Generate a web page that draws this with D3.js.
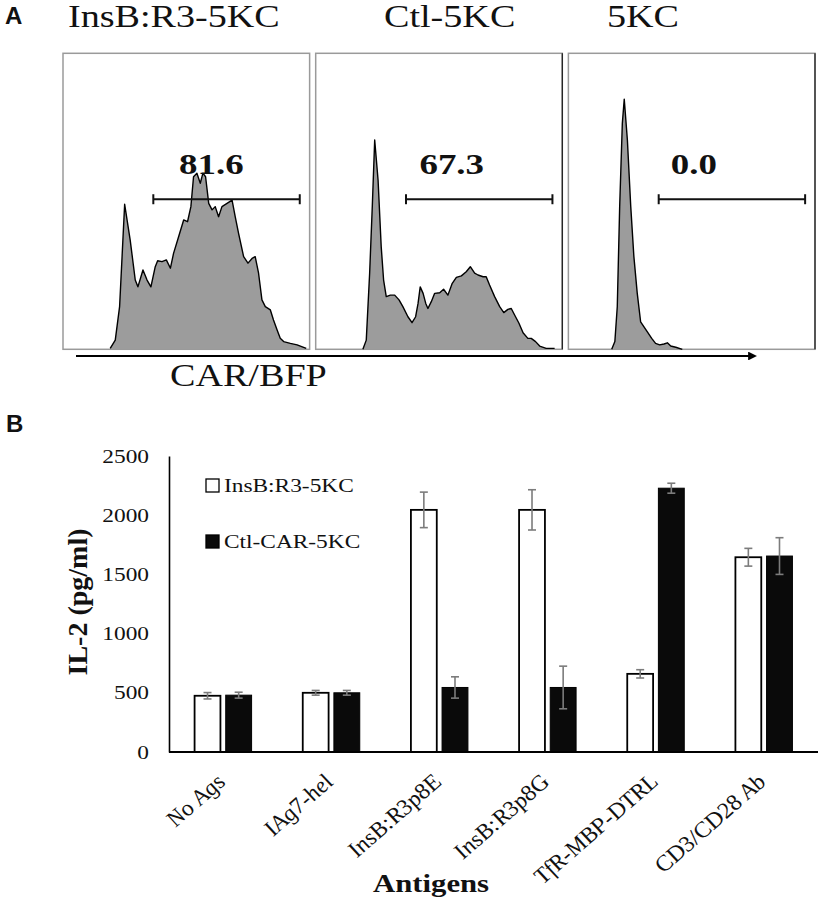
<!DOCTYPE html>
<html>
<head>
<meta charset="utf-8">
<script src="https://cdn.jsdelivr.net/npm/d3@7"></script>
<style>
  body { margin: 0; background: #fff; }
  svg { display: block; }
  text { font-family: "Liberation Serif", "Times New Roman", serif; fill: #111; }
  .panelLetter { font-family: "Liberation Sans", Arial, sans-serif; font-weight: bold; font-size: 24px; }
</style>
</head>
<body>
<div id="graphic"></div>
<script>
// ---- panel A : flow histograms (channel 0-1024, count as % of box height)
var flowSamples = ["InsB:R3-5KC", "Ctl-5KC", "5KC"];
var gatePercent = ["81.6", "67.3", "0.0"];
var gateRange = [375, 983];
var gateLevel = 50.7;

var histInsB = [[196,0.3],[217,3.1],[235,14.4],[256,49.0],[279,36.9],[300,23.4],[311,21.1],[332,26.8],[349,23.4],[365,21.1],[383,27.9],[393,29.9],[411,29.6],[429,30.2],[446,27.4],[459,32.4],[480,38.0],[501,43.7],[517,43.1],[531,48.2],[542,58.3],[556,59.5],[570,56.1],[581,59.5],[592,58.3],[605,49.3],[619,47.1],[632,48.2],[646,44.8],[660,48.2],[681,49.3],[702,50.4],[715,44.8],[729,39.2],[750,31.3],[768,29.1],[785,30.7],[798,31.3],[812,25.7],[826,16.7],[840,14.4],[861,13.3],[874,9.9],[889,6.5],[902,3.7],[916,2.6],[944,2.0],[972,1.5],[1010,0.3]];
var histCtl = [[196,0],[210,3.1],[224,25.7],[235,48.2],[245,70.7],[259,57.2],[272,34.7],[282,23.4],[293,17.8],[310,18.3],[328,18.3],[346,16.7],[362,14.4],[383,11.0],[400,9.0],[415,11.0],[425,15.5],[434,21.1],[446,18.9],[457,15.5],[466,13.8],[480,16.1],[494,18.9],[515,19.1],[531,20.3],[549,18.3],[567,22.3],[584,24.3],[605,24.8],[625,26.2],[642,27.9],[660,25.7],[674,25.1],[695,24.5],[708,24.5],[722,21.7],[743,17.8],[764,14.4],[781,12.4],[798,13.5],[812,13.8],[826,11.6],[844,8.8],[861,5.6],[881,3.7],[895,3.7],[913,2.6],[930,1.1],[957,0.3],[992,0.3]];
var hist5KC = [[180,0],[193,2.6],[203,14.4],[213,48.2],[224,76.3],[232,84.5],[245,70.7],[259,48.2],[272,31.3],[286,18.9],[300,9.3],[314,7.6],[328,5.9],[346,3.7],[362,2.0],[379,1.5],[397,1.8],[411,2.2],[425,1.1],[446,0.7],[473,0]];
var histograms = [histInsB, histCtl, hist5KC];

// ---- panel B : IL-2 bars
var antigens = ["No Ags", "IAg7-hel", "InsB:R3p8E", "InsB:R3p8G", "TfR-MBP-DTRL", "CD3/CD28 Ab"];
var seriesNames = ["InsB:R3-5KC", "Ctl-CAR-5KC"];
var insbMean = [475, 500, 2045, 2045, 660, 1645];
var insbErr = [27, 20, 150, 170, 35, 75];
var ctlMean = [480, 500, 545, 545, 2228, 1655];
var ctlErr = [25, 20, 90, 180, 42, 155];
var yTicks = [0, 500, 1000, 1500, 2000, 2500];

var SX = 1.23; // the figure is stretched sideways

var svg = d3.select('#graphic').append('svg')
  .attr('width', 821)
  .attr('height', 903);

svg.append('defs').append('marker')
  .attr('id', 'arrow')
  .attr('viewBox', '0 0 10 10')
  .attr('refX', 1).attr('refY', 5)
  .attr('markerWidth', 5).attr('markerHeight', 4)
  .attr('orient', 'auto')
  .append('path')
  .attr('d', 'M0,0L10,5L0,10z')
  .attr('fill', '#000');

function stretchText(g, x, y, txt, extra) {
  return g.append('text')
    .attr('transform', 'translate(' + x + ',' + y + ') scale(' + SX + ',1)' + (extra || ''))
    .text(txt);
}

// ===================== panel A
svg.append('text').attr('class', 'panelLetter').attr('x', 5).attr('y', 24).text('A');

var boxTop = 53.3, boxBottom = 349.3;
var boxes = d3.scaleBand().domain(flowSamples).range([63, 815]).paddingInner(0.024);
var titleX = [68, 384, 607];
var labelCh = [482, 431, 425];

flowSamples.forEach(function(name, i) {
  var x0 = boxes(name);
  var g = svg.append('g');
  var xCh = d3.scaleLinear().domain([0, 1024]).range([x0, x0 + boxes.bandwidth()]);
  var yCt = d3.scaleLinear().domain([0, 100]).range([boxBottom, boxTop]);

  g.append('rect')
    .attr('x', x0).attr('y', boxTop)
    .attr('width', boxes.bandwidth()).attr('height', boxBottom - boxTop)
    .attr('fill', 'none').attr('stroke', '#9a9a9a').attr('stroke-width', 1.5);
  if (i > 0) {
    g.append('line')
      .attr('x1', x0 + boxes.bandwidth()).attr('x2', x0 + boxes.bandwidth())
      .attr('y1', boxTop).attr('y2', boxBottom)
      .attr('stroke', '#222').attr('stroke-width', 1.3);
  }

  var area = d3.area().x(d => xCh(d[0])).y0(yCt(0)).y1(d => yCt(d[1]));
  var line = d3.line().x(d => xCh(d[0])).y(d => yCt(d[1]));
  g.append('path').attr('d', area(histograms[i])).attr('fill', '#9c9c9c');
  g.append('path').attr('d', line(histograms[i]))
    .attr('fill', 'none').attr('stroke', '#000').attr('stroke-width', 1.4)
    .attr('stroke-linejoin', 'round');

  // gate
  var gy = yCt(gateLevel);
  g.append('line')
    .attr('x1', xCh(gateRange[0])).attr('x2', xCh(gateRange[1]))
    .attr('y1', gy).attr('y2', gy)
    .attr('stroke', '#111').attr('stroke-width', 2);
  gateRange.forEach(function(c) {
    g.append('line')
      .attr('x1', xCh(c)).attr('x2', xCh(c))
      .attr('y1', gy - 5).attr('y2', gy + 5)
      .attr('stroke', '#111').attr('stroke-width', 2);
  });
  stretchText(g, xCh(labelCh[i]), 174, gatePercent[i])
    .style('font-size', '30px').style('font-weight', 'bold');

  stretchText(svg, titleX[i], 27, name).style('font-size', '31px');
});

svg.append('line')
  .attr('x1', 76).attr('x2', 749)
  .attr('y1', 356).attr('y2', 356)
  .attr('stroke', '#000').attr('stroke-width', 2.2)
  .attr('marker-end', 'url(#arrow)');
stretchText(svg, 170, 386, 'CAR/BFP').style('font-size', '31px');

// ===================== panel B
svg.append('text').attr('class', 'panelLetter').attr('x', 6).attr('y', 432).text('B');

var y = d3.scaleLinear().domain([0, 2500]).range([752, 456]);
var x0 = d3.scaleBand().domain(antigens).range([169, 818]).paddingInner(0.473).paddingOuter(0.2365);
var x1 = d3.scaleBand().domain(seriesNames).range([0, x0.bandwidth()]).paddingInner(0.17);

var yAxis = d3.axisLeft(y).tickValues(yTicks).tickFormat(d3.format('d'))
  .tickSize(0).tickSizeOuter(0).tickPadding(20);
var yg = svg.append('g').attr('transform', 'translate(169,0)').call(yAxis);
yg.select('.domain').attr('stroke', '#000').attr('stroke-width', 1.6);
yg.selectAll('text')
  .attr('x', -20 / SX)
  .attr('transform', 'scale(' + SX + ',1)')
  .style('font-family', '"Liberation Serif", serif')
  .style('font-size', '19px')
  .attr('fill', '#111');

var rows = antigens.map(function(a, i) {
  return { antigen: a, values: [
    { series: seriesNames[0], mean: insbMean[i], err: insbErr[i] },
    { series: seriesNames[1], mean: ctlMean[i], err: ctlErr[i] }
  ]};
});

var groups = svg.selectAll('g.group')
  .data(rows)
  .join('g')
  .attr('class', 'group')
  .attr('transform', d => 'translate(' + x0(d.antigen) + ',0)');

groups.selectAll('rect')
  .data(d => d.values)
  .join('rect')
  .attr('x', d => x1(d.series))
  .attr('y', d => y(d.mean))
  .attr('width', x1.bandwidth())
  .attr('height', d => y(0) - y(d.mean))
  .attr('fill', d => d.series == seriesNames[0] ? '#fff' : '#0a0a0a')
  .attr('stroke', '#000')
  .attr('stroke-width', d => d.series == seriesNames[0] ? 1.8 : 1);

var eb = groups.selectAll('g.err')
  .data(d => d.values)
  .join('g')
  .attr('class', 'err')
  .attr('stroke', '#7c7c7c')
  .attr('stroke-width', 1.6);
eb.append('line')
  .attr('x1', d => x1(d.series) + x1.bandwidth() / 2)
  .attr('x2', d => x1(d.series) + x1.bandwidth() / 2)
  .attr('y1', d => y(d.mean + d.err))
  .attr('y2', d => y(d.mean - d.err));
[1, -1].forEach(function(s) {
  eb.append('line')
    .attr('x1', d => x1(d.series) + x1.bandwidth() / 2 - 4)
    .attr('x2', d => x1(d.series) + x1.bandwidth() / 2 + 4)
    .attr('y1', d => y(d.mean + s * d.err))
    .attr('y2', d => y(d.mean + s * d.err));
});

// x axis line
svg.append('line')
  .attr('x1', 169).attr('x2', 818)
  .attr('y1', y(0)).attr('y2', y(0))
  .attr('stroke', '#000').attr('stroke-width', 1.8);

// rotated category labels (rotated, then stretched like the rest of the figure)
svg.selectAll('text.xlab')
  .data(antigens)
  .join('text')
  .attr('class', 'xlab')
  .attr('transform', d => 'translate(' + (x0(d) + x0.bandwidth() / 2 + 4) + ',783) scale(' + SX + ',1) rotate(-47)')
  .attr('text-anchor', 'end')
  .style('font-size', '21px')
  .style('font-style', 'italic')
  .text(d => d);

// legend
seriesNames.forEach(function(s, i) {
  svg.append('rect')
    .attr('x', 206).attr('y', 479 + i * 56)
    .attr('width', 13).attr('height', 13)
    .attr('fill', i == 0 ? '#fff' : '#0a0a0a')
    .attr('stroke', '#000').attr('stroke-width', 1.3);
  stretchText(svg, 224, 492 + i * 56, s).style('font-size', '19px');
});

// axis titles
svg.append('text')
  .attr('transform', 'translate(87,602) rotate(-90)')
  .attr('text-anchor', 'middle')
  .style('font-size', '28px')
  .style('font-weight', 'bold')
  .text('IL-2 (pg/ml)');

stretchText(svg, 431, 892, 'Antigens')
  .attr('text-anchor', 'middle')
  .style('font-size', '25px')
  .style('font-weight', 'bold');
</script>
</body>
</html>
